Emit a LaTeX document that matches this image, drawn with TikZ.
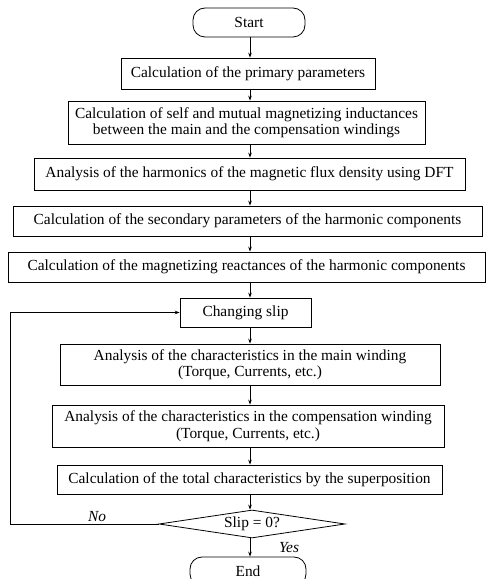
\documentclass[tikz,border=0pt]{standalone}
\usepackage{fontspec}
\setmainfont{Liberation Serif}
\usetikzlibrary{shapes.geometric,arrows.meta}
\begin{document}
\begin{tikzpicture}[x=1pt,y=1pt,
  txt/.style={font=\fontsize{15.4}{16.5}\selectfont},
  box/.style={draw, line width=0.8pt, inner sep=0pt, align=center, txt},
  term/.style={box, rounded corners=12pt},
  arr/.style={-{Stealth[length=5pt,width=3.6pt]}, line width=0.7pt},
  lbl/.style={font=\fontsize{15.4}{16.5}\selectfont\itshape, inner sep=1pt}]
\useasboundingbox (0,0) rectangle (486,579);
\coordinate (ax) at (250,0);
\coordinate (lx) at (10,0);

\node[term, minimum width=112, minimum height=29] (s) at (249,556.5) {Start};
\node[box, minimum width=254, minimum height=31] (b1) at (248,505.5) {Calculation of the primary parameters};
\node[box, minimum width=357, minimum height=43] (b2) at (246.5,456.5) {Calculation of self and mutual magnetizing inductances\\ between the main and the compensation windings};
\node[box, minimum width=431, minimum height=32] (b3) at (249.5,405) {Analysis of the harmonics of the magnetic flux density using DFT};
\node[box, minimum width=469, minimum height=30] (b4) at (247.5,358) {Calculation of the secondary parameters of the harmonic components};
\node[box, minimum width=477, minimum height=30] (b5) at (246.5,312) {Calculation of the magnetizing reactances of the harmonic components};
\node[box, minimum width=131, minimum height=29] (cs) at (245.5,266.5) {Changing slip};
\node[box, minimum width=380, minimum height=41] (b6) at (250,214.5) {Analysis of the characteristics in the main winding\\ (Torque, Currents, etc.)};
\node[box, minimum width=392, minimum height=42] (b7) at (248,153) {Analysis of the characteristics in the compensation winding\\ (Torque, Currents, etc.)};
\node[box, minimum width=385, minimum height=29] (b8) at (249.5,99.5) {Calculation of the total characteristics by the superposition};
\node[draw, diamond, line width=0.8pt, inner sep=0pt, aspect=6, minimum width=186, minimum height=28, txt] (d) at (252,55) {Slip = 0?};
\node[term, minimum width=116, minimum height=29] (e) at (248,7.5) {End};

\draw[arr] (s.south -| ax) -- (b1.north -| ax);
\draw[arr] (b1.south -| ax) -- (b2.north -| ax);
\draw[arr] (b2.south -| ax) -- (b3.north -| ax);
\draw[arr] (b3.south -| ax) -- (b4.north -| ax);
\draw[arr] (b4.south -| ax) -- (b5.north -| ax);
\draw[arr] (b5.south -| ax) -- (cs.north -| ax);
\draw[arr] (cs.south -| ax) -- (b6.north -| ax);
\draw[arr] (b6.south -| ax) -- (b7.north -| ax);
\draw[arr] (b7.south -| ax) -- (b8.north -| ax);
\draw[arr] (b8.south -| ax) -- (d.north -| ax);
\draw[arr] (d.south -| ax) -- (e.north -| ax);
\draw[arr] (d.west) -- (d.west -| lx) |- (cs.west);

\node[lbl, anchor=base] (no) at (97,57) {No};
\node[lbl, anchor=base] (yes) at (289,27) {Yes};
\end{tikzpicture}
\end{document}
